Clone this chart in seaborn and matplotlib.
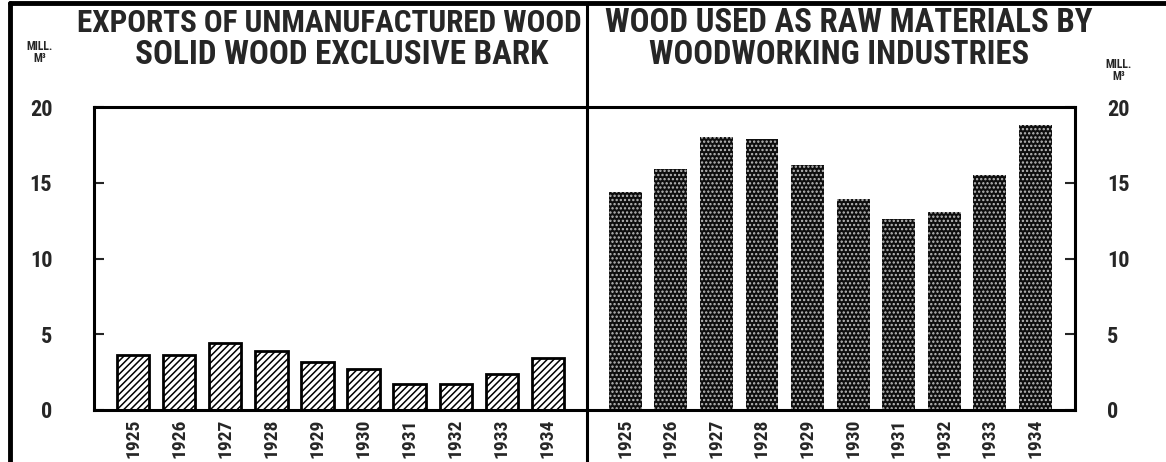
import matplotlib
matplotlib.use("Agg")
import matplotlib.pyplot as plt
from matplotlib import font_manager
from matplotlib.lines import Line2D
import seaborn as sns
import pandas as pd

years = ["1925", "1926", "1927", "1928", "1929", "1930", "1931", "1932", "1933", "1934"]
exports = [3.6, 3.6, 4.4, 3.9, 3.2, 2.7, 1.7, 1.7, 2.4, 3.4]
raw_materials = [14.4, 15.9, 18.0, 17.9, 16.2, 13.9, 12.6, 13.1, 15.5, 18.8]
y_ticks = [0, 5, 10, 15, 20]
left_title = ["EXPORTS OF UNMANUFACTURED WOOD", "SOLID WOOD EXCLUSIVE BARK"]
right_title = ["WOOD USED AS RAW MATERIALS BY", "WOODWORKING INDUSTRIES"]
unit_label = "MILL.\nM³"

sns.set_theme(style="white")
avail = {f.name for f in font_manager.fontManager.ttflist}
cond = "DejaVu Sans"
for cand in ["Liberation Sans Narrow", "DejaVu Sans Condensed", "Roboto Condensed", "Open Sans Condensed"]:
    if cand in avail:
        cond = cand
        break
plt.rcParams["font.family"] = [cond, "DejaVu Sans"]
plt.rcParams["hatch.linewidth"] = 1.1

df_l = pd.DataFrame({"year": years, "value": exports})
df_r = pd.DataFrame({"year": years, "value": raw_materials})

fig = plt.figure(figsize=(11.66, 4.62), dpi=100)
W, H = 1166, 462
def box(x0, x1, ytop, ybot):
    return [x0 / W, 1 - ybot / H, (x1 - x0) / W, (ybot - ytop) / H]

axL = fig.add_axes(box(94, 587, 107, 410))
axR = fig.add_axes(box(587, 1075, 107, 410))

sns.barplot(data=df_l, x="year", y="value", ax=axL, color="white", width=0.7,
            edgecolor="black", linewidth=2.0, hatch="/////", saturation=1)
sns.barplot(data=df_r, x="year", y="value", ax=axR, color="#0e0e0e", width=0.72,
            edgecolor="#bdbdbd", linewidth=0, hatch="....", saturation=1)

for ax in (axL, axR):
    ax.set_ylim(0, 20)
    ax.set_yticks(y_ticks)
    ax.set_xlabel("")
    ax.set_ylabel("")
    ax.set_facecolor("white")
    for s in ax.spines.values():
        s.set_visible(True)
        s.set_color("black")
        s.set_linewidth(2.2)
    ax.tick_params(axis="x", length=0, pad=6, labelsize=14, labelrotation=90)
    for t in ax.get_xticklabels():
        t.set_fontweight("bold")

axL.set_xlim(-0.85, 9.85)
axR.set_xlim(-0.84, 9.87)
axL.spines["right"].set_visible(False)
axR.spines["left"].set_visible(False)
axL.tick_params(axis="y", direction="in", length=7, width=1.5, pad=30, labelsize=16, left=True, right=False)
axR.yaxis.tick_right()
axR.tick_params(axis="y", direction="in", length=7, width=1.5, pad=23, labelsize=16, right=True, left=False)
for ax in (axL, axR):
    for t in ax.get_yticklabels():
        t.set_fontweight("bold")

renderer = fig.canvas.get_renderer()
def fitted_text(xc, yc, s, target_w):
    t = fig.text(xc / W, 1 - yc / H, s, ha="center", va="center", fontsize=20, fontweight="bold")
    w = t.get_window_extent(renderer=renderer).width
    t.set_fontsize(20 * target_w / w)
    return t

fitted_text(329, 23, left_title[0], 505)
fitted_text(342, 55, left_title[1], 413)
fitted_text(849, 23, right_title[0], 486)
fitted_text(839, 55, right_title[1], 380)

fig.text(40 / W, 1 - 52 / H, unit_label, ha="center", va="center", fontsize=8.5,
         fontweight="bold", linespacing=0.9)
fig.text(1119 / W, 1 - 70 / H, unit_label, ha="center", va="center", fontsize=8.5,
         fontweight="bold", linespacing=0.9)

# outer frame
fig.add_artist(Line2D([10 / W, 1.0], [1 - 3 / H, 1 - 3 / H], color="black", lw=3.5, transform=fig.transFigure))
fig.add_artist(Line2D([10 / W, 10 / W], [0, 1 - 3 / H], color="black", lw=3.5, transform=fig.transFigure))
fig.add_artist(Line2D([587 / W, 587 / W], [0, 1 - 3 / H], color="black", lw=2.2, transform=fig.transFigure))

fig.savefig("out.png", dpi=100, facecolor="white")
